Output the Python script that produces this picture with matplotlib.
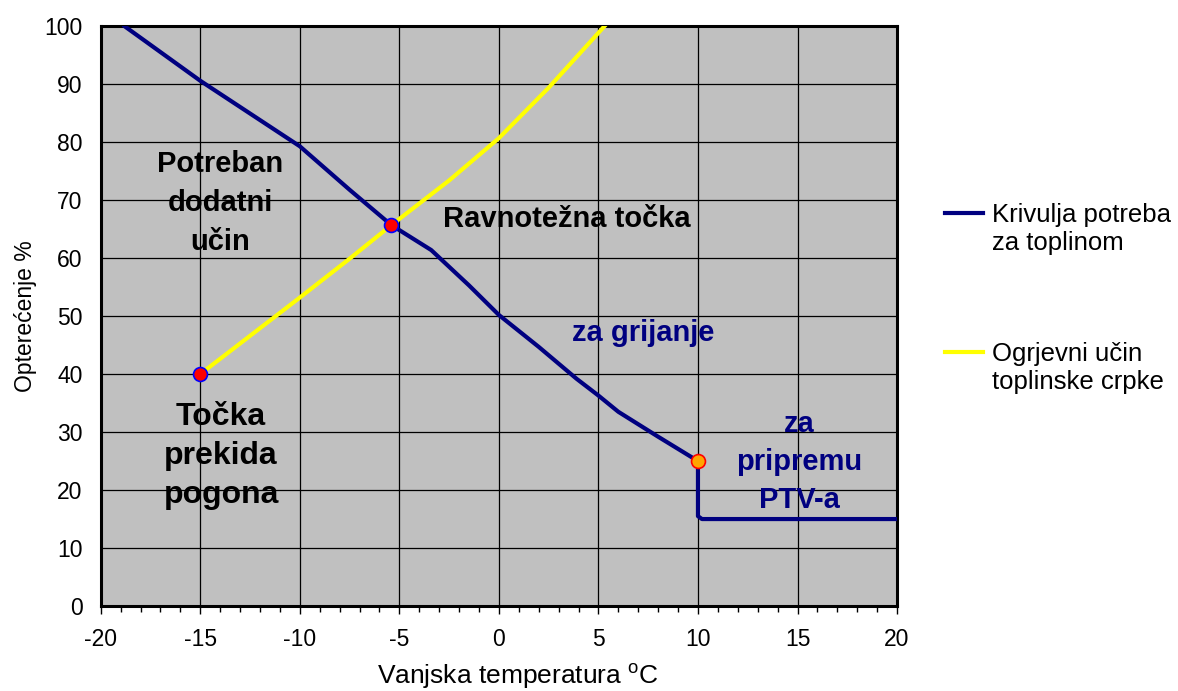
import numpy as np
import matplotlib.pyplot as plt
from matplotlib.ticker import MultipleLocator
from matplotlib.lines import Line2D

plt.rcParams['font.family'] = ['Liberation Sans', 'DejaVu Sans']
plt.rcParams['axes.unicode_minus'] = False

# krivulja potreba za toplinom (grijanje + PTV)
t_dem = [-18.8, -15, -10, -7.5, -5.4, -3.4, -1.5, 0, 2, 3.9, 5, 6, 8, 10, 10, 10.2, 20]
q_dem = [100, 90.6, 79.3, 71.8, 65.7, 61.4, 55.3, 50.2, 44.7, 39.2, 36.3, 33.5, 29.2, 25.0, 15.5, 15.0, 15.0]

# ogrjevni ucin toplinske crpke
t_hp = [-15, -10, -7.5, -5.4, -2.5, 0, 2.5, 5.3]
q_hp = [40, 53.2, 59.9, 65.7, 73.4, 80.7, 89.4, 100]

# istaknute tocke
t_pts = [-15, -5.4]
q_pts = [40, 65.7]
t_ptv = [10]
q_ptv = [25]

navy = '#000080'

fig = plt.figure(figsize=(11.78, 6.91), dpi=100)
ax = fig.add_axes([0.0855, 0.123, 0.676, 0.839])
ax.set_facecolor('#C0C0C0')

ax.plot(t_dem, q_dem, color=navy, lw=3, solid_joinstyle='round', zorder=3)
ax.plot(t_hp, q_hp, color='#FFFF00', lw=3, solid_joinstyle='round', zorder=3)
ax.plot(t_pts, q_pts, 'o', ms=10, mfc='red', mec='blue', mew=1.2, zorder=4)
ax.plot(t_ptv, q_ptv, 'o', ms=10, mfc='#FFA500', mec='red', mew=1.2, zorder=4)

ax.set_xlim(-20, 20)
ax.set_ylim(0, 100)
ax.xaxis.set_major_locator(MultipleLocator(5))
ax.xaxis.set_minor_locator(MultipleLocator(1))
ax.yaxis.set_major_locator(MultipleLocator(10))
ax.grid(True, color='black', lw=0.9)
ax.set_axisbelow(True)
for s in ax.spines.values():
    s.set_linewidth(2.2)
ax.tick_params(axis='x', which='major', length=6, width=1, pad=10, labelsize=16.5)
ax.tick_params(axis='x', which='minor', length=4, width=1)
ax.tick_params(axis='y', length=0, pad=13, labelsize=16.5)

ax.set_xlabel('Vanjska temperatura $^{\\mathregular{o}}$C', fontsize=19, labelpad=7, x=0.524)
ax.set_ylabel('Opterećenje %', fontsize=16.5, labelpad=5.5)

bold = dict(fontweight='bold', ha='center', va='center')
ax.text(-14, 69.6, 'Potreban\ndodatni\nučin', fontsize=21, linespacing=1.5, **bold)
ax.text(3.4, 66.8, 'Ravnotežna točka', fontsize=21, **bold)
ax.text(7.25, 47.1, 'za grijanje', fontsize=21, color=navy, **bold)
ax.text(15.1, 24.9, 'za\npripremu\nPTV-a', fontsize=21, color=navy, linespacing=1.46, **bold)
ax.text(-13.95, 25.9, 'Točka\nprekida\npogona', fontsize=23, linespacing=1.39, **bold)

# legenda: prazni redovi drze razmak izmedu dvije stavke
blank = Line2D([], [], color='none')
handles = [Line2D([], [], color=navy, lw=3), blank, blank, blank, blank,
           Line2D([], [], color='#FFFF00', lw=3), blank]
labels = ['Krivulja potreba', 'za toplinom', ' ', ' ', ' ',
          'Ogrjevni učin', 'toplinske crpke']
fig.legend(handles, labels, loc='upper left', bbox_to_anchor=(0.8026, 0.706),
           frameon=False, fontsize=18.5, handlelength=1.45, handletextpad=0.35,
           labelspacing=0.15, borderpad=0, borderaxespad=0)

fig.savefig('out.png', dpi=100)
